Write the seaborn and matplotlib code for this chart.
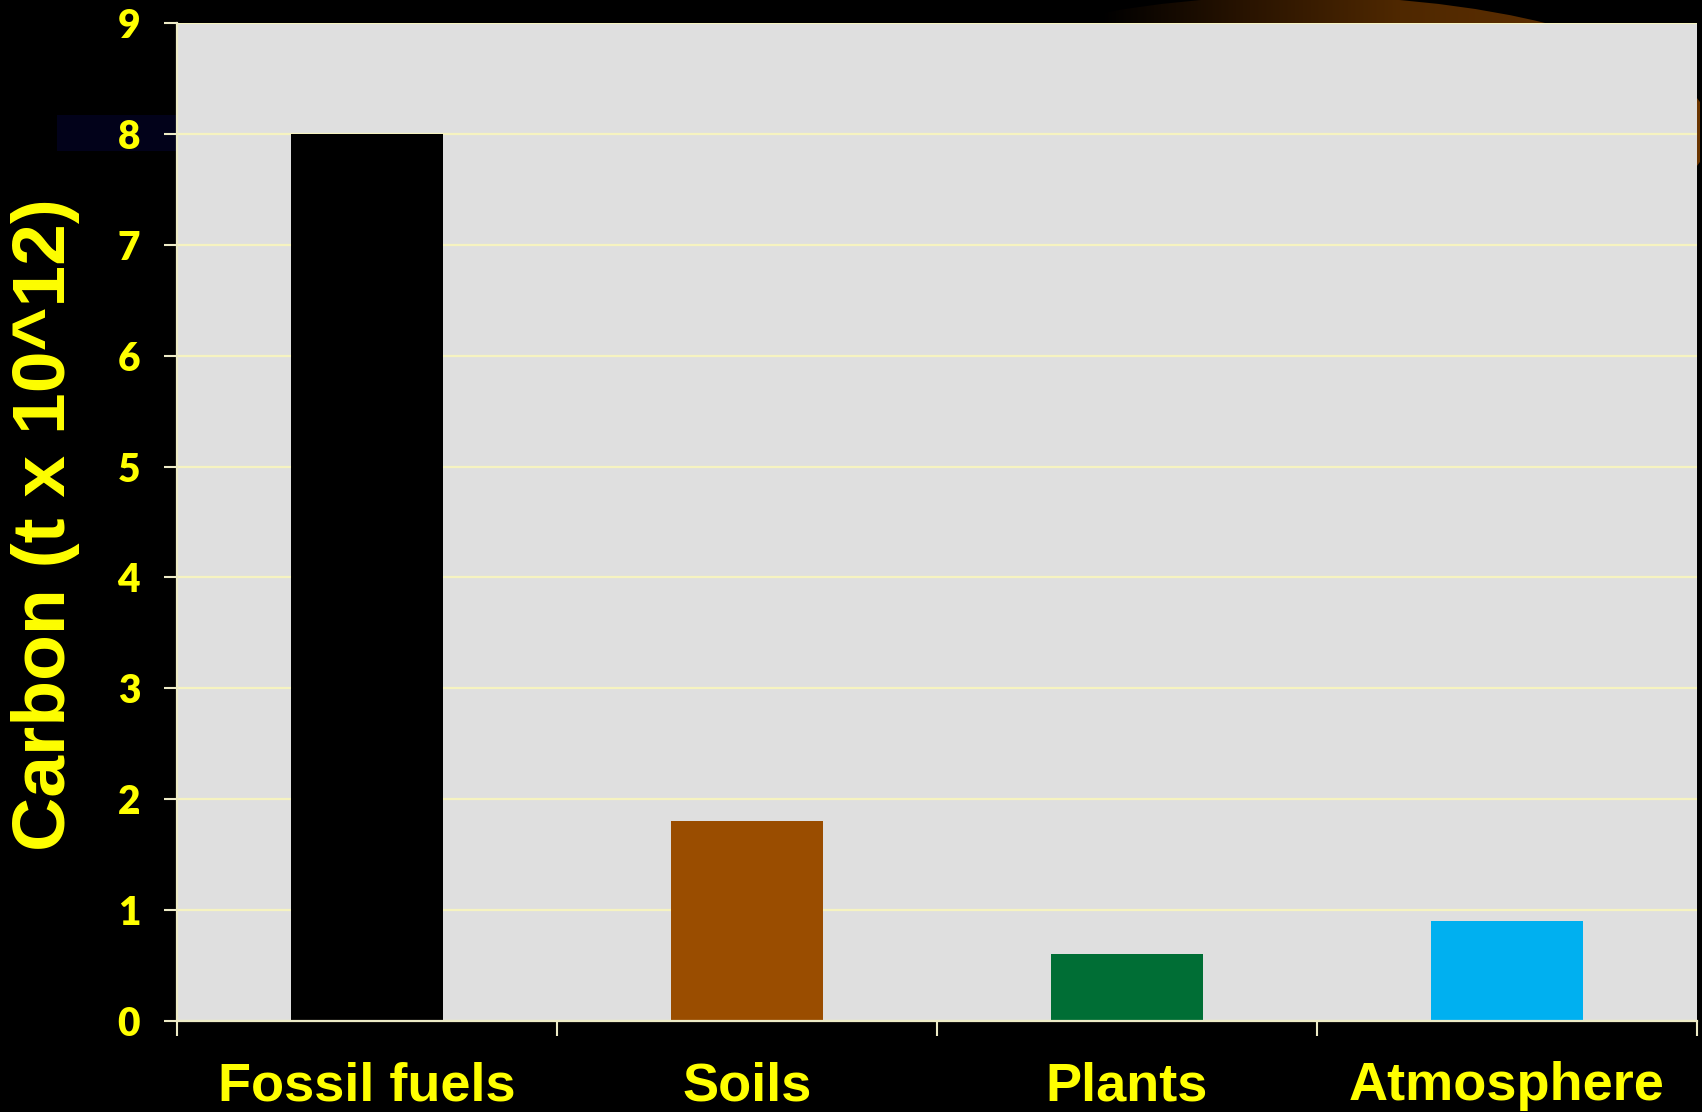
import matplotlib
matplotlib.use("Agg")
import matplotlib.pyplot as plt
from matplotlib.patches import Ellipse, Rectangle
from matplotlib.colors import LinearSegmentedColormap
import numpy as np
import pandas as pd
import seaborn as sns

categories = ["Fossil fuels", "Soils", "Plants", "Atmosphere"]
values = [8.0, 1.8, 0.6, 0.9]
bar_colors = ["#000000", "#9A4D00", "#006E35", "#00B0F0"]
y_ticks = [0, 1, 2, 3, 4, 5, 6, 7, 8, 9]
y_label = "Carbon (t x 10^12)"

df = pd.DataFrame({"category": categories, "value": values})

W, H = 1702, 1112
fig = plt.figure(figsize=(W / 100, H / 100), dpi=100, facecolor="black")

# background decoration (slide swoosh)
bg = fig.add_axes([0, 0, 1, 1], zorder=0)
bg.set_xlim(0, W)
bg.set_ylim(H, 0)
bg.axis("off")
grad = np.linspace(0, 1, 256)[None, :]
cmap = LinearSegmentedColormap.from_list("sw", ["#000000", "#2a1400", "#4f2800", "#5c2e00", "#6a3500"])
im = bg.imshow(grad, extent=[1100, 1700, 300, -20], cmap=cmap, aspect="auto", zorder=1)
ell = Ellipse((1300, 132), 820, 272, transform=bg.transData, facecolor="none", edgecolor="none")
bg.add_patch(ell)
im.set_clip_path(ell)
bg.add_patch(Rectangle((57, 115), 120, 36, facecolor="#02021a", edgecolor="none", zorder=2))

ax = fig.add_axes([177 / W, 1 - 1021 / H, 1520 / W, 998 / H], zorder=2)
ax.set_facecolor("#DFDFDF")

sns.barplot(data=df, x="category", y="value", hue="category", palette=bar_colors,
            width=0.4, legend=False, ax=ax, saturation=1, edgecolor="none", linewidth=0)

ax.set_xlim(-0.5, len(categories) - 0.5)
ax.set_ylim(0, 9)
ax.set_yticks(y_ticks)
ax.set_axisbelow(True)
ax.grid(axis="y", color="#F6F3C0", linewidth=1.6)
ax.grid(axis="x", visible=False)

for s in ["top", "right"]:
    ax.spines[s].set_visible(False)
for s in ["left", "bottom"]:
    ax.spines[s].set_color("#EDEBC6")
    ax.spines[s].set_linewidth(1.6)

ax.set_xlabel("")
ax.set_ylabel("")

# x ticks between categories
ax.set_xticks(np.arange(len(categories)))
ax.set_xticklabels(categories)
ax.set_xticks(np.arange(-0.5, len(categories), 1.0), minor=True)
ax.tick_params(axis="x", which="major", length=0, pad=29)
ax.tick_params(axis="x", which="minor", length=11, width=1.5, color="#EDEBC6", direction="out")
ax.tick_params(axis="y", which="major", length=9.5, width=1.5, color="#EDEBC6", pad=17)

for lab in ax.get_xticklabels():
    lab.set_fontfamily("Liberation Sans")
    lab.set_fontweight("bold")
    lab.set_fontsize(39)
    lab.set_color("#FFFF00")
for lab in ax.get_yticklabels():
    lab.set_fontfamily("Lato")
    lab.set_fontweight("heavy")
    lab.set_fontsize(28)
    lab.set_color("#FFFF00")

fig.text(46 / W, 1 - 525 / H, y_label, rotation=90, ha="center", va="center",
         fontfamily="Liberation Sans", fontweight="bold", fontsize=54, color="#FFFF00")

fig.savefig("out.png", dpi=100, facecolor="black")
